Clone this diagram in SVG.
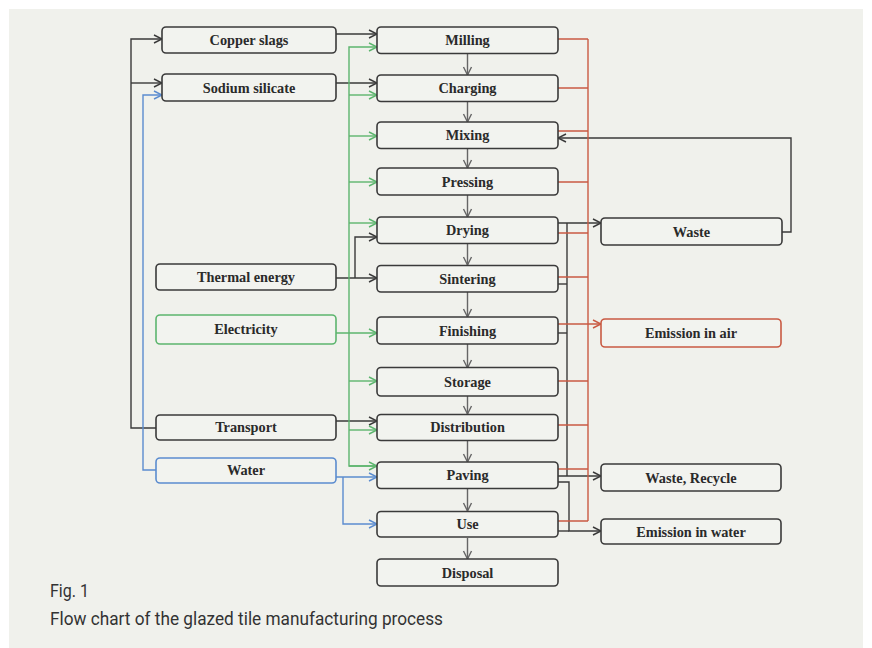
<svg xmlns="http://www.w3.org/2000/svg" width="872" height="648" viewBox="0 0 872 648">
<style>
.bg{fill:#f0f1ec}
.box rect{fill:#f2f3ef;stroke:#3a3a3a;stroke-width:1.6}
.box.bxg rect{stroke:#5cb56e}
.box.bxr rect{stroke:#c95a43}
.box.bxb rect{stroke:#5b8ccf}
.box text{font-family:"Liberation Serif",serif;font-weight:bold;font-size:14.3px;fill:#2a2a2a;stroke:none;text-anchor:middle}
.k{fill:none;stroke:#3a3a3a;stroke-width:1.4}
.d{fill:none;stroke:#666;stroke-width:1.4}
.r{fill:none;stroke:#c95a43;stroke-width:1.4}
.g{fill:none;stroke:#5cb56e;stroke-width:1.4}
.bl{fill:none;stroke:#5b8ccf;stroke-width:1.4}
.cap{font-family:Roboto,"Liberation Sans",sans-serif;font-size:18.5px;fill:#333}
</style>
<defs>
<marker id="ak" markerUnits="userSpaceOnUse" markerWidth="12" markerHeight="12" refX="9" refY="5" orient="auto"><path d="M1,1 L9,5 L1,9" fill="none" stroke="#3a3a3a" stroke-width="1.4"/></marker>
<marker id="ad" markerUnits="userSpaceOnUse" markerWidth="12" markerHeight="12" refX="9" refY="5" orient="auto"><path d="M1,1 L9,5 L1,9" fill="none" stroke="#666" stroke-width="1.4"/></marker>
<marker id="ar" markerUnits="userSpaceOnUse" markerWidth="12" markerHeight="12" refX="9" refY="5" orient="auto"><path d="M1,1 L9,5 L1,9" fill="none" stroke="#c95a43" stroke-width="1.4"/></marker>
<marker id="ag" markerUnits="userSpaceOnUse" markerWidth="12" markerHeight="12" refX="9" refY="5" orient="auto"><path d="M1,1 L9,5 L1,9" fill="none" stroke="#5cb56e" stroke-width="1.4"/></marker>
<marker id="ab" markerUnits="userSpaceOnUse" markerWidth="12" markerHeight="12" refX="9" refY="5" orient="auto"><path d="M1,1 L9,5 L1,9" fill="none" stroke="#5b8ccf" stroke-width="1.4"/></marker>
</defs>
<rect x="0" y="0" width="872" height="648" fill="#ffffff"/>
<rect class="bg" x="9" y="9" width="854" height="639"/>

<g id="connectors">
<g class="d" marker-end="url(#ad)">
<path d="M467.5,54 V75"/>
<path d="M467.5,102 V122"/>
<path d="M467.5,149 V168"/>
<path d="M467.5,195 V217"/>
<path d="M467.5,244 V265"/>
<path d="M467.5,292 V317"/>
<path d="M467.5,344 V368"/>
<path d="M467.5,395 V414"/>
<path d="M467.5,441 V462"/>
<path d="M467.5,489 V511"/>
<path d="M467.5,538 V559"/>
</g>
<path class="k" d="M156,428 H131 V39 H162" marker-end="url(#ak)"/>
<path class="k" d="M131,83 H162" marker-end="url(#ak)"/>
<path class="k" d="M336,34 H377" marker-end="url(#ak)"/>
<path class="k" d="M336,83 H377" marker-end="url(#ak)"/>
<path class="k" d="M336,278 H377" marker-end="url(#ak)"/>
<path class="k" d="M355,278 V237 H377" marker-end="url(#ak)"/>
<path class="k" d="M336,421 H377" marker-end="url(#ak)"/>
<path class="k" d="M781,232 H791 V138 H558" marker-end="url(#ak)"/>
<path class="k" d="M558,223 H601" marker-end="url(#ak)"/>
<path class="k" d="M567,223 V476"/>
<path class="k" d="M558,284 H567"/>
<path class="k" d="M558,333 H567"/>
<path class="k" d="M558,476 H601" marker-end="url(#ak)"/>
<path class="k" d="M558,482 H569 V531 H601" marker-end="url(#ak)"/>
<path class="k" d="M558,531 H569"/>
<path class="r" d="M588,39 V521"/>
<path class="r" d="M558,39 H588 M558,88 H588 M558,131 H588 M558,182 H588 M558,233 H588 M558,277 H588 M558,381 H588 M558,425 H588 M558,469 H588 M558,521 H588"/>
<path class="r" d="M558,324 H601" marker-end="url(#ar)"/>
<path class="g" d="M377,466 H349 V47 H377" marker-end="url(#ag)"/>
<g class="g" marker-end="url(#ag)">
<path d="M349,95 H377"/>
<path d="M349,136 H377"/>
<path d="M349,182 H377"/>
<path d="M349,223 H377"/>
<path d="M349,381 H377"/>
<path d="M349,430 H377"/>
<path d="M336,333 H377"/>
</g>
<path class="g" d="M349,466 H377" marker-end="url(#ag)"/>
<path class="bl" d="M156,470 H143 V95 H162" marker-end="url(#ab)"/>
<path class="bl" d="M336,477 H377" marker-end="url(#ab)"/>
<path class="bl" d="M343,477 V524 H377" marker-end="url(#ab)"/>
</g>

<g id="copper-slags" class="box"><rect x="162" y="27" width="174" height="26" rx="4"/><text x="249" y="45">Copper slags</text></g>
<g id="sodium-silicate" class="box"><rect x="162" y="74" width="174" height="27" rx="4"/><text x="249" y="92.5">Sodium silicate</text></g>
<g id="thermal-energy" class="box"><rect x="156" y="264" width="180" height="26" rx="4"/><text x="246" y="282">Thermal energy</text></g>
<g id="electricity" class="box bxg"><rect x="156" y="315" width="180" height="29" rx="4"/><text x="246" y="334">Electricity</text></g>
<g id="transport" class="box"><rect x="156" y="415" width="180" height="25" rx="4"/><text x="246" y="432">Transport</text></g>
<g id="water" class="box bxb"><rect x="156" y="458" width="180" height="25" rx="4"/><text x="246" y="475">Water</text></g>

<g id="milling" class="box"><rect x="377" y="27" width="181" height="26.5" rx="4"/><text x="467.5" y="45">Milling</text></g>
<g id="charging" class="box"><rect x="377" y="75" width="181" height="26.5" rx="4"/><text x="467.5" y="93">Charging</text></g>
<g id="mixing" class="box"><rect x="377" y="122" width="181" height="26.5" rx="4"/><text x="467.5" y="140">Mixing</text></g>
<g id="pressing" class="box"><rect x="377" y="168" width="181" height="27" rx="4"/><text x="467.5" y="186.5">Pressing</text></g>
<g id="drying" class="box"><rect x="377" y="217" width="181" height="26.5" rx="4"/><text x="467.5" y="235">Drying</text></g>
<g id="sintering" class="box"><rect x="377" y="265.5" width="181" height="26.5" rx="4"/><text x="467.5" y="283.5">Sintering</text></g>
<g id="finishing" class="box"><rect x="377" y="317" width="181" height="27" rx="4"/><text x="467.5" y="335.5">Finishing</text></g>
<g id="storage" class="box"><rect x="377" y="367.5" width="181" height="28.5" rx="4"/><text x="467.5" y="386.5">Storage</text></g>
<g id="distribution" class="box"><rect x="377" y="414.5" width="181" height="26" rx="4"/><text x="467.5" y="432">Distribution</text></g>
<g id="paving" class="box"><rect x="377" y="462" width="181" height="26.5" rx="4"/><text x="467.5" y="480">Paving</text></g>
<g id="use" class="box"><rect x="377" y="511.5" width="181" height="25.5" rx="4"/><text x="467.5" y="529">Use</text></g>
<g id="disposal" class="box"><rect x="377" y="559" width="181" height="27" rx="4"/><text x="467.5" y="577.5">Disposal</text></g>

<g id="waste" class="box"><rect x="601" y="218" width="181" height="27" rx="4"/><text x="691.5" y="236.5">Waste</text></g>
<g id="emission-air" class="box bxr"><rect x="601" y="319" width="180" height="28" rx="4"/><text x="691" y="338">Emission in air</text></g>
<g id="waste-recycle" class="box"><rect x="601" y="464" width="180" height="27" rx="4"/><text x="691" y="482.5">Waste, Recycle</text></g>
<g id="emission-water" class="box"><rect x="601" y="519" width="180" height="25" rx="4"/><text x="691" y="536.5">Emission in water</text></g>

<text class="cap" x="50" y="597" textLength="39" lengthAdjust="spacingAndGlyphs">Fig. 1</text>
<text class="cap" x="50" y="624.5" textLength="393" lengthAdjust="spacingAndGlyphs">Flow chart of the glazed tile manufacturing process</text>
</svg>
